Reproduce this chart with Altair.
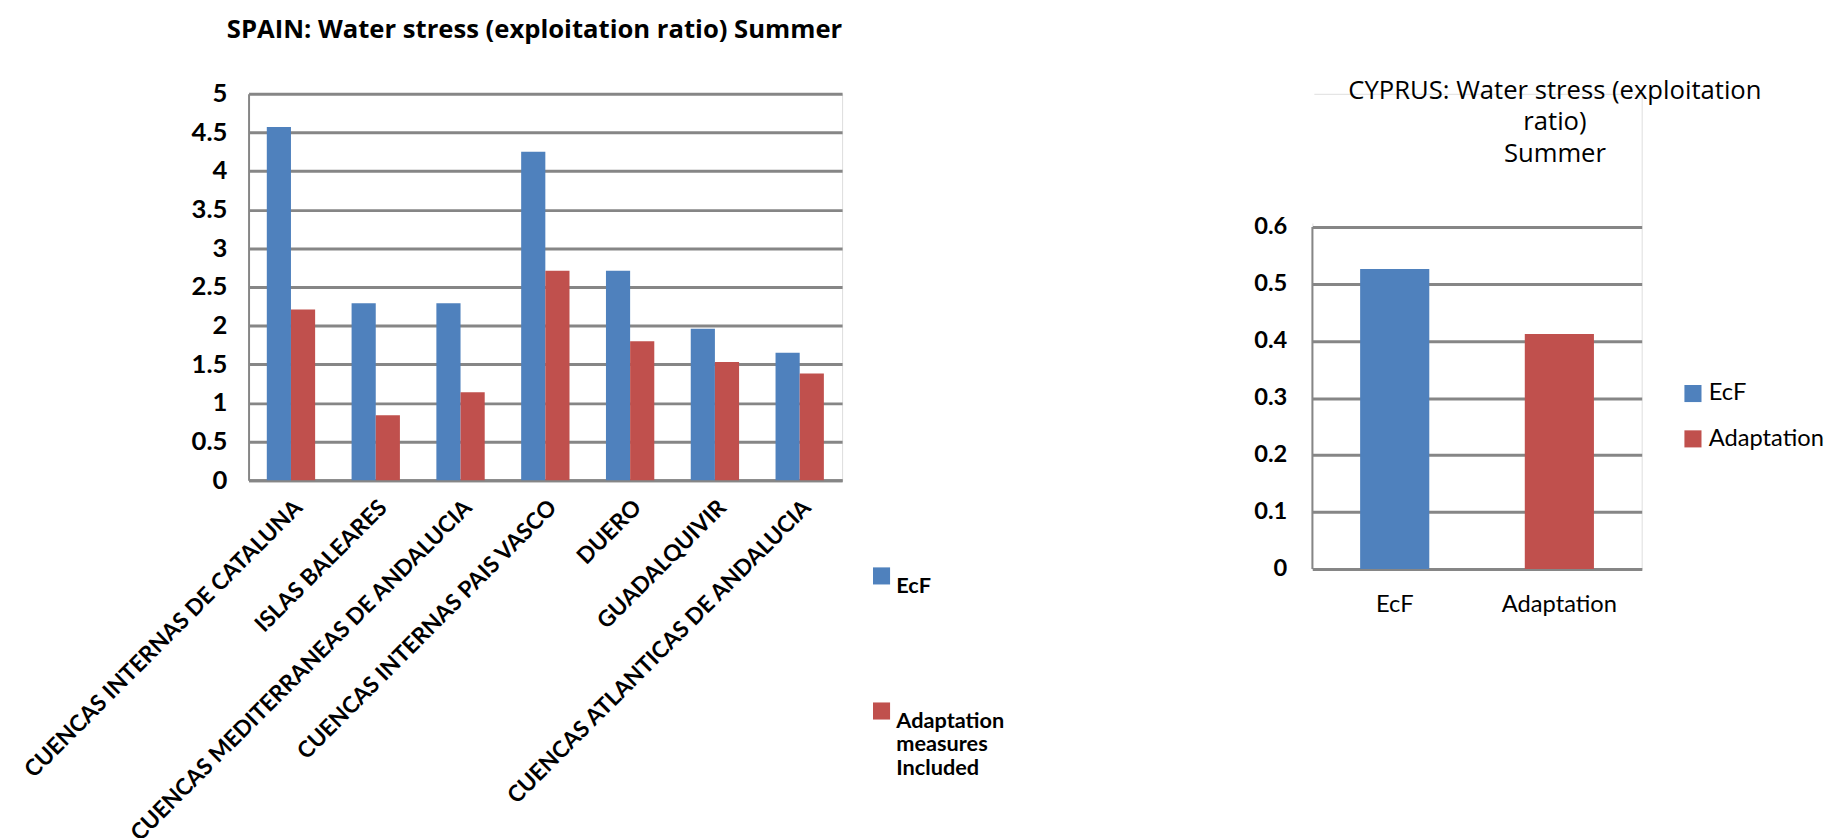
import altair as alt
import pandas as pd

# ---------------- data ----------------
spain_regions = [
    "CUENCAS INTERNAS DE CATALUNA",
    "ISLAS BALEARES",
    "CUENCAS MEDITERRANEAS DE ANDALUCIA",
    "CUENCAS INTERNAS PAIS VASCO",
    "DUERO",
    "GUADALQUIVIR",
    "CUENCAS ATLANTICAS DE ANDALUCIA",
]
spain_series = ["EcF", "Adaptation measures Included"]
spain_ecf = [4.57, 2.29, 2.29, 4.25, 2.71, 1.96, 1.65]
spain_adapt = [2.21, 0.84, 1.14, 2.71, 1.80, 1.53, 1.38]
spain_ticks = [0, 0.5, 1, 1.5, 2, 2.5, 3, 3.5, 4, 4.5, 5]

cyprus_cats = ["EcF", "Adaptation"]
cyprus_vals = [0.526, 0.412]
cyprus_ticks = [0, 0.1, 0.2, 0.3, 0.4, 0.5, 0.6]

colors = ["#4F81BD", "#C0504D"]
GRID = "#868686"
FONT = "Lato"
TFONT = "Open Sans"

spain_df = pd.DataFrame({
    "region": spain_regions * 2,
    "series": [spain_series[0]] * len(spain_regions) + [spain_series[1]] * len(spain_regions),
    "value": spain_ecf + spain_adapt,
})
cyprus_df = pd.DataFrame({"cat": cyprus_cats, "value": cyprus_vals})

# ---------------- Spain ----------------
spain = alt.Chart(spain_df).mark_bar().encode(
    x=alt.X("region:N", sort=spain_regions,
            scale=alt.Scale(paddingInner=0.43, paddingOuter=0.215),
            axis=alt.Axis(title=None, labelAngle=-45, labelFont=FONT, labelFontSize=23,
                          labelFontWeight="bold", labelColor="black", ticks=False,
                          domainColor=GRID, domainWidth=3, labelPadding=16, labelLimit=0)),
    xOffset=alt.XOffset("series:N", sort=spain_series,
                        scale=alt.Scale(paddingInner=0, paddingOuter=0)),
    y=alt.Y("value:Q", scale=alt.Scale(domain=[0, 5], nice=False),
            axis=alt.Axis(title=None, values=spain_ticks, format="~g", grid=True,
                          gridColor=GRID, gridWidth=3, ticks=False, domainColor=GRID,
                          domainWidth=2, labelFont=FONT, labelFontSize=26,
                          labelFontWeight="bold", labelColor="black", labelPadding=22)),
    color=alt.Color("series:N", sort=spain_series,
                    scale=alt.Scale(domain=spain_series, range=colors),
                    legend=alt.Legend(title=None, orient="none", legendX=631, legendY=478,
                                      symbolType="square", symbolSize=300,
                                      symbolStrokeWidth=0, labelFont=FONT,
                                      labelFontSize=22, labelFontWeight="bold",
                                      labelColor="black", rowPadding=105, labelOffset=4,
                                      labelBaseline="top", labelLimit=0,
                                      labelExpr="datum.label == 'EcF' ? 'EcF' : ['Adaptation', 'measures', 'Included']")),
).properties(
    width=602, height=392,
    title=alt.Title("SPAIN: Water stress (exploitation ratio) Summer", font=TFONT,
                    fontSize=26, fontWeight="bold", color="black", anchor="middle",
                    dx=-11, offset=39),
)

# ---------------- Cyprus ----------------
# the Cyprus panel sits lower than the Spain panel: its plot uses only the
# lower part of the view height
CY_H = 482
CY_TOP = 135
cy_y_scale = alt.Scale(domain=[0, 0.6], nice=False, range=[CY_H, CY_TOP])
cy_top_value = cyprus_ticks[-1] * CY_H / (CY_H - CY_TOP)
cy_axis_df = pd.DataFrame({"lo": [cyprus_ticks[0]], "hi": [cyprus_ticks[-1]]})
cy_blank_df = pd.DataFrame({"lo": [cyprus_ticks[-1] * 1.01], "hi": [cy_top_value * 1.01]})


def cy_y_axis():
    return alt.Axis(title=None, values=cyprus_ticks, format="~g", grid=True,
                    gridColor=GRID, gridWidth=3, ticks=False, domain=False,
                    labelFont=FONT, labelFontSize=24, labelFontWeight="bold",
                    labelColor="black", labelPadding=26)


cy_bars = alt.Chart(cyprus_df).mark_bar().encode(
    x=alt.X("cat:N", sort=cyprus_cats,
            scale=alt.Scale(paddingInner=0.58, paddingOuter=0.29),
            axis=alt.Axis(title=None, labelAngle=0, labelFont=FONT, labelFontSize=24,
                          labelColor="black", ticks=False, domainColor=GRID,
                          domainWidth=3, labelPadding=24)),
    y=alt.Y("value:Q", scale=cy_y_scale, axis=cy_y_axis()),
    color=alt.Color("cat:N", sort=cyprus_cats,
                    scale=alt.Scale(domain=cyprus_cats, range=colors),
                    legend=alt.Legend(title=None, orient="none", legendX=374, legendY=292,
                                      symbolType="square", symbolSize=300,
                                      symbolStrokeWidth=0, labelFont=FONT,
                                      labelFontSize=24, labelColor="black",
                                      rowPadding=22, labelOffset=4)),
)

cy_axis_line = alt.Chart(cy_axis_df).mark_rule(color=GRID, strokeWidth=2).encode(
    x=alt.value(0),
    y=alt.Y("lo:Q", scale=cy_y_scale, axis=cy_y_axis()),
    y2=alt.Y2("hi"),
)

# white cover over the unused part of the left edge above the plot
cy_blank = alt.Chart(cy_blank_df).mark_rule(color="white", strokeWidth=4).encode(
    x=alt.value(0),
    y=alt.Y("lo:Q", scale=cy_y_scale, axis=cy_y_axis()),
    y2=alt.Y2("hi"),
)

cyprus = alt.layer(cy_bars, cy_axis_line, cy_blank).properties(
    width=334, height=CY_H,
    title=alt.Title(["CYPRUS: Water stress (exploitation", "ratio)", "Summer"],
                    font=TFONT, fontSize=26, fontWeight="normal", color="black",
                    anchor="middle", lineHeight=32, dx=79, dy=81, offset=0),
)

chart = alt.hconcat(spain, cyprus, spacing=250).resolve_scale(
    color="independent", y="independent", x="independent"
).properties(
    padding={"left": 12, "top": 2, "right": 5, "bottom": 0}
).configure_view(stroke=None, strokeWidth=0).configure(background="white")

chart.save("out.html", embed_options={"renderer": "svg", "actions": False})
